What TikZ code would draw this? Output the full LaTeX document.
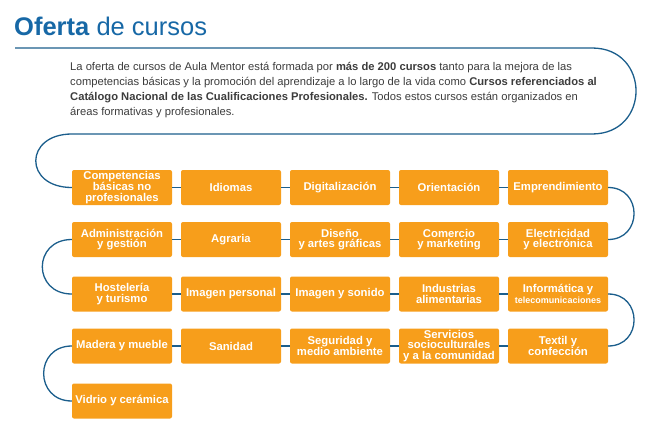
\documentclass[tikz,border=0pt]{standalone}
\usepackage{fontspec}
\setmainfont{Liberation Sans}
\usepackage{xcolor}
\definecolor{mentorblue}{HTML}{1B5E8C}
\definecolor{titleblue}{HTML}{1768A6}
\definecolor{mentororange}{HTML}{F79E1B}
\definecolor{bodygray}{HTML}{3C3C3C}

\tikzset{
  area/.style={fill=mentororange, rounded corners=2pt, minimum width=100pt, minimum height=35pt,
    inner sep=1pt, align=center, text=white, font=\fontsize{11.3}{10.5}\selectfont\bfseries},
  snake/.style={draw=mentorblue, line width=1.3pt}
}

\begin{document}
\begin{tikzpicture}[x=1pt, y=-1pt]
        \useasboundingbox (0,0) rectangle (654,439);

        % title and text
        \node[anchor=base west, inner sep=0, text=titleblue, font=\fontsize{25.5}{26}\selectfont] (title) at (14,35)
          {\textbf{Oferta} de cursos};
        \node[anchor=north west, inner sep=0, text=bodygray, align=left,
          font=\fontsize{11.2}{15}\selectfont] (intro) at (70,62)
          {La oferta de cursos de Aula Mentor está formada por \textbf{más de 200 cursos} tanto para la mejora de las\\
           competencias básicas y la promoción del aprendizaje a lo largo de la vida como \textbf{Cursos referenciados al}\\
           \textbf{Catálogo Nacional de las Cualificaciones Profesionales.} Todos estos cursos están organizados en\\
           áreas formativas y profesionales.};

        % row 1
        \node[area] (competencias) at (122,187.5) {Competencias\\básicas no\\profesionales};
        \node[area] (idiomas) at (231,187.5) {Idiomas};
        \node[area] (digitalizacion) at (340,187.5) {Digitalización};
        \node[area] (orientacion) at (449,187.5) {Orientación};
        \node[area] (emprendimiento) at (558,187.5) {Emprendimiento};

        % row 2
        \node[area] (administracion) at (122,239.5) {Administración\\y gestión};
        \node[area] (agraria) at (231,239.5) {Agraria};
        \node[area] (diseno) at (340,239.5) {Diseño\\y artes gráficas};
        \node[area] (comercio) at (449,239.5) {Comercio\\y marketing};
        \node[area] (electricidad) at (558,239.5) {Electricidad\\y electrónica};

        % row 3
        \node[area] (hosteleria) at (122,294) {Hostelería\\y turismo};
        \node[area] (imagen) at (231,294) {Imagen personal};
        \node[area] (sonido) at (340,294) {Imagen y sonido};
        \node[area] (industrias) at (449,294) {Industrias\\alimentarias};
        \node[area] (informatica) at (558,294) {Informática y\\{\fontsize{9}{10}\selectfont telecomunicaciones}};

        % row 4
        \node[area] (madera) at (122,346) {Madera y mueble};
        \node[area] (sanidad) at (231,346) {Sanidad};
        \node[area] (seguridad) at (340,346) {Seguridad y\\medio ambiente};
        \node[area] (servicios) at (449,346) {Servicios\\socioculturales\\y a la comunidad};
        \node[area] (textil) at (558,346) {Textil y\\confección};

        % row 5
        \node[area] (vidrio) at (122,401) {Vidrio y cerámica};

        % top loop
        \coordinate (start) at (15,48);
        \coordinate (turnright) at (592,48);
        \coordinate (backright) at (592,134);
        \coordinate (backleft) at (72,134);
        \draw[snake] (start) -- (turnright) to[out=0, in=0, looseness=1.75] (backright)
          -- (backleft) to[out=180, in=180, looseness=2.3] (competencias.west);

        % links between areas
        \draw[snake] (competencias) -- (idiomas) -- (digitalizacion) -- (orientacion) -- (emprendimiento);
        \draw[snake] (emprendimiento.east) to[out=0, in=0, looseness=1.7] (electricidad.east);
        \draw[snake] (electricidad) -- (comercio) -- (diseno) -- (agraria) -- (administracion);
        \draw[snake] (administracion.west) to[out=180, in=180, looseness=1.85] (hosteleria.west);
        \draw[snake] (hosteleria) -- (imagen) -- (sonido) -- (industrias) -- (informatica);
        \draw[snake] (informatica.east) to[out=0, in=0, looseness=1.7] (textil.east);
        \draw[snake] (textil) -- (servicios) -- (seguridad) -- (sanidad) -- (madera);
        \draw[snake] (madera.west) to[out=180, in=180, looseness=1.75] (vidrio.west);
\end{tikzpicture}
\end{document}
